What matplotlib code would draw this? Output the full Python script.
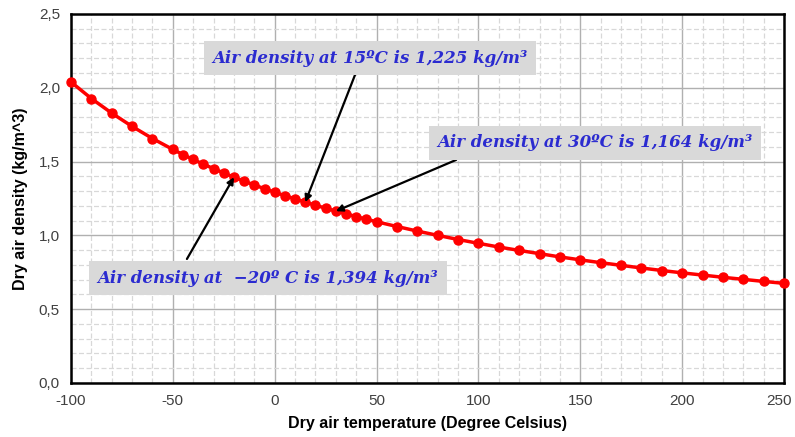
import numpy as np
import matplotlib.pyplot as plt
import matplotlib.transforms as mtransforms
from matplotlib.ticker import MultipleLocator, FuncFormatter

# Dry air density vs temperature
temp = [-100, -90, -80, -70, -60, -50,
        -45, -40, -35, -30, -25, -20, -15, -10, -5, 0,
        5, 10, 15, 20, 25, 30, 35, 40, 45, 50,
        60, 70, 80, 90, 100, 110, 120, 130, 140, 150,
        160, 170, 180, 190, 200, 210, 220, 230, 240, 250]
density = [2.039, 1.927, 1.828, 1.738, 1.656, 1.582,
           1.547, 1.514, 1.482, 1.452, 1.422, 1.394, 1.367, 1.341, 1.316, 1.292,
           1.269, 1.247, 1.225, 1.204, 1.184, 1.164, 1.146, 1.127, 1.109, 1.092,
           1.060, 1.029, 1.000, 0.972, 0.946, 0.921, 0.898, 0.876, 0.854, 0.834,
           0.815, 0.797, 0.779, 0.762, 0.746, 0.731, 0.716, 0.702, 0.688, 0.675]
x_ticks = [-100, -50, 0, 50, 100, 150, 200, 250]

# annotations: label, point, text centre, arrow start
notes = [
    ("Air density at 15ºC is 1,225 kg/m³", (15, 1.225), (46.8, 2.20), (39.4, 2.087)),
    ("Air density at 30ºC is 1,164 kg/m³", (30, 1.164), (157.2, 1.626), (89, 1.511)),
    ("Air density at  −20º C is 1,394 kg/m³", (-20, 1.394), (-3.3, 0.711), (-43.1, 0.840)),
]

plt.rcParams['font.family'] = ['Liberation Sans', 'DejaVu Sans']
plt.rcParams['axes.unicode_minus'] = False

fig = plt.figure(figsize=(7.95, 4.37), dpi=100)
ax = fig.add_axes([0.0893, 0.1236, 0.8970, 0.8445])

ax.plot(temp, density, color='red', lw=2.5, marker='o', ms=6.5, zorder=3, clip_on=False)

ax.set_xlim(-100, 250)
ax.set_ylim(0, 2.5)
ax.set_xticks(x_ticks, [str(t) for t in x_ticks])
ax.xaxis.set_minor_locator(MultipleLocator(10))
ax.yaxis.set_major_locator(MultipleLocator(0.5))
ax.yaxis.set_minor_locator(MultipleLocator(0.1))
ax.yaxis.set_major_formatter(FuncFormatter(lambda v, p: f"{v:.1f}".replace('.', ',')))

ax.grid(which='major', color='#b0b0b0', lw=1.0, ls='-')
ax.grid(which='minor', color='#d8d8d8', lw=0.9, ls=(0, (4, 2)))
ax.set_axisbelow(True)

for s in ax.spines.values():
    s.set_linewidth(1.8)
    s.set_color('black')
ax.tick_params(which='both', length=0, pad=8, labelsize=11, labelcolor='#404040')

# nudge the last x label so it stays inside the figure
last = ax.get_xticklabels()[-1]
last.set_transform(last.get_transform() + mtransforms.ScaledTranslation(-4/72, 0, fig.dpi_scale_trans))

ax.set_xlabel('Dry air temperature (Degree Celsius)', fontsize=11.5, fontweight='bold', labelpad=6)
ax.set_ylabel('Dry air density (kg/m^3)', fontsize=11.5, fontweight='bold', labelpad=8)

for label, pt, pos, start in notes:
    ax.annotate('', xy=pt, xytext=start,
                arrowprops=dict(arrowstyle='-|>', color='black', lw=1.6,
                                mutation_scale=10, shrinkA=0, shrinkB=0), zorder=4)
    ax.text(pos[0], pos[1], label, ha='center', va='center', fontsize=12,
            family='DejaVu Serif', style='italic', fontweight='bold', color='#2b2bd0',
            bbox=dict(boxstyle='square,pad=0.5', facecolor='#d9d9d9', edgecolor='none'),
            zorder=5)

fig.savefig('out.png', dpi=100)
